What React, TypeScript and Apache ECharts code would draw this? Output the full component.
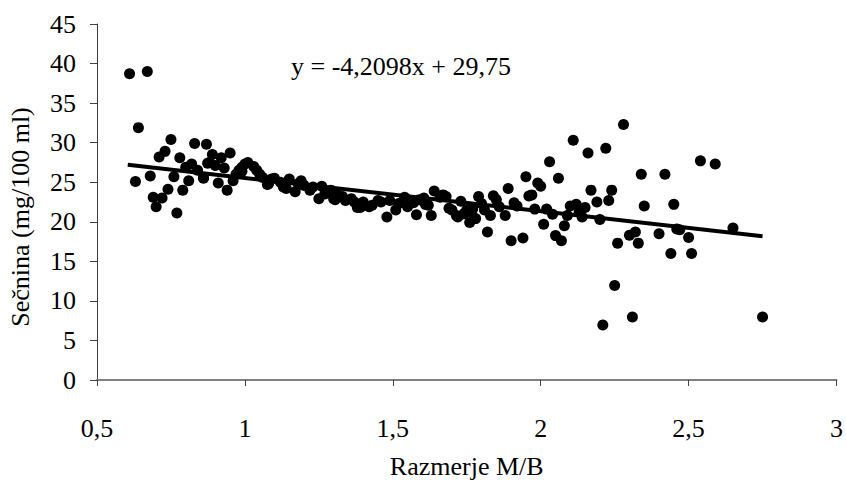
import React, { useEffect, useRef } from "react";
import * as echarts from "echarts";

const xTicks = [0.5, 1, 1.5, 2, 2.5, 3];
const yTicks = [0, 5, 10, 15, 20, 25, 30, 35, 40, 45];

const ratioMB = [
  0.61, 0.67, 0.64, 0.63, 0.68, 0.69, 0.70, 0.72, 0.71, 0.73, 0.74, 0.75, 0.76, 0.77, 0.78, 0.79,
  0.81, 0.80, 0.82, 0.83, 0.84, 0.86, 0.87, 0.88, 0.89, 0.90, 0.91, 0.92, 0.93, 0.94, 0.95, 0.96,
  0.97, 0.98, 0.99, 1.00, 1.01, 1.03, 1.04, 1.05, 1.06, 1.08, 1.09, 1.10, 1.12, 1.13, 1.14, 1.15,
  1.17, 1.18, 1.19, 1.20, 1.22, 1.23, 1.25, 1.26, 1.27, 1.29, 1.30, 1.31, 1.33, 1.34, 1.36, 1.37,
  1.39, 1.40, 1.42, 1.43, 1.45, 1.46, 1.48, 1.49, 1.51, 1.52, 1.54, 1.55, 1.57, 1.58, 1.59, 1.605,
  1.61, 1.62, 1.63, 1.64, 1.66, 1.67, 1.68, 1.69, 1.70, 1.715, 1.72, 1.73, 1.74, 1.75, 1.76, 1.765,
  1.77, 1.78, 1.79, 1.80, 1.81, 1.82, 1.83, 1.84, 1.85, 1.86, 1.88, 1.89, 1.90, 1.91, 1.92, 1.94,
  1.95, 1.96, 1.97, 1.98, 1.99, 2.00, 2.01, 2.02, 2.03, 2.04, 2.05, 2.06, 2.07, 2.08, 2.09, 2.10,
  2.11, 2.12, 2.13, 2.14, 2.15, 2.16, 2.17, 2.19, 2.20, 2.21, 2.22, 2.23, 2.24, 2.25, 2.26, 2.28,
  2.30, 2.31, 2.32, 2.33, 2.34, 2.35, 2.40, 2.42, 2.44, 2.45, 2.46, 2.47, 2.50, 2.51, 2.54, 2.59,
  2.65, 2.75, 0.874, 0.86, 0.99, 1.076, 1.305, 1.38,
];

const secnina = [
  38.7, 39.0, 31.9, 25.1, 25.8, 23.1, 21.9, 23.0, 28.2, 28.9, 24.1, 30.4, 25.7, 21.1, 28.1, 24.0,
  25.2, 26.9, 27.3, 29.9, 26.5, 25.6, 29.8, 27.5, 28.5, 27.1, 24.9, 28.1, 26.8, 24.0, 28.7, 25.2,
  26.0, 26.5, 26.9, 27.3, 27.5, 27.0, 26.5, 26.0, 25.6, 24.8, 25.4, 25.5, 25.0, 24.4, 24.2, 25.4,
  23.8, 24.8, 25.2, 24.6, 24.0, 24.4, 22.9, 24.5, 23.5, 24.0, 22.9, 23.5, 23.2, 22.7, 22.9, 22.5,
  21.8, 22.5, 21.9, 22.1, 22.7, 22.5, 20.6, 22.7, 21.5, 22.3, 23.1, 21.9, 22.4, 20.9, 22.8, 23.0,
  22.2, 22.1, 20.8, 23.9, 23.1, 23.4, 23.2, 21.7, 21.5, 20.8, 20.6, 22.6, 21.0, 21.5, 19.9, 21.2,
  21.6, 20.4, 23.2, 22.3, 21.5, 18.7, 20.8, 23.3, 22.8, 21.9, 20.8, 24.2, 17.6, 22.4, 22.0, 17.95,
  25.7, 23.25, 23.4, 21.6, 24.9, 24.5, 19.7, 21.6, 27.6, 20.95, 18.25, 25.5, 17.6, 19.5, 20.8, 22.0,
  30.3, 22.2, 21.2, 20.6, 21.8, 28.7, 24.0, 22.5, 20.3, 6.95, 29.3, 22.7, 24.0, 11.95, 17.3, 32.3,
  18.3, 7.95, 18.7, 17.3, 26.0, 22.0, 18.5, 26.0, 16.0, 22.2, 19.1, 19.0, 18.0, 16.0, 27.7, 27.3,
  19.2, 7.95, 27.4, 25.5, 26.4, 24.7, 22.8, 21.8,
];

const trendSlope = -4.2098;
const trendIntercept = 29.75;
const trendRange = [0.604, 2.75];
const equationText = "y = -4,2098x + 29,75";
const xTitle = "Razmerje M/B";
const yTitle = "Sečnina (mg/100 ml)";

const FONT = "'Liberation Serif', 'Times New Roman', serif";

export default function App() {
  const ref = useRef<HTMLDivElement>(null);
  useEffect(() => {
    if (!ref.current) return;
    const chart = echarts.init(ref.current, undefined, { renderer: "svg" });
    const points = ratioMB.map((x, i) => [x, secnina[i]]);
    const trend = trendRange.map((x) => [x, trendIntercept + trendSlope * x]);
    chart.setOption({
      animation: false,
      backgroundColor: "#ffffff",
      grid: { left: 97, right: 5, top: 24, bottom: 100, containLabel: false },
      xAxis: {
        type: "value",
        min: xTicks[0],
        max: xTicks[xTicks.length - 1],
        interval: 0.5,
        name: xTitle,
        nameLocation: "middle",
        nameGap: 73,
        nameTextStyle: { fontFamily: FONT, fontSize: 26, color: "#000" },
        axisLine: { show: true, lineStyle: { color: "#7f7f7f", width: 2 } },
        axisTick: { show: true, inside: false, length: 6, lineStyle: { color: "#404040", width: 1 } },
        splitLine: { show: false },
        axisLabel: {
          fontFamily: FONT,
          fontSize: 26,
          color: "#000",
          margin: 35,
          showMaxLabel: true,
          formatter: (v: number) => String(v).replace(".", ","),
        },
      },
      yAxis: {
        type: "value",
        min: yTicks[0],
        max: yTicks[yTicks.length - 1],
        interval: 5,
        axisLine: { show: true, lineStyle: { color: "#404040", width: 1 } },
        axisTick: { show: true, inside: false, length: 7, lineStyle: { color: "#404040", width: 1 } },
        splitLine: { show: false },
        axisLabel: { fontFamily: FONT, fontSize: 26, color: "#000", margin: 21 },
      },
      graphic: [
        {
          type: "text",
          x: 20,
          y: 217,
          rotation: Math.PI / 2,
          style: {
            text: yTitle,
            fontFamily: FONT,
            fontSize: 26,
            fill: "#000",
            textAlign: "center",
            textVerticalAlign: "middle",
          },
        },
        {
          type: "text",
          x: 291,
          y: 66,
          style: {
            text: equationText,
            fontFamily: FONT,
            fontSize: 26,
            fill: "#000",
            textAlign: "left",
            textVerticalAlign: "middle",
          },
        },
      ],
      series: [
        {
          type: "scatter",
          data: points,
          symbol: "circle",
          symbolSize: 11,
          itemStyle: { color: "#000", opacity: 1 },
          z: 2,
        },
        {
          type: "line",
          data: trend,
          symbol: "none",
          lineStyle: { color: "#000", width: 4 },
          z: 3,
        },
      ],
    });
    return () => chart.dispose();
  }, []);
  return (
    <div
      ref={ref}
      style={{ position: "fixed", left: 0, top: 0, width: 846, height: 484, background: "#fff" }}
    />
  );
}
